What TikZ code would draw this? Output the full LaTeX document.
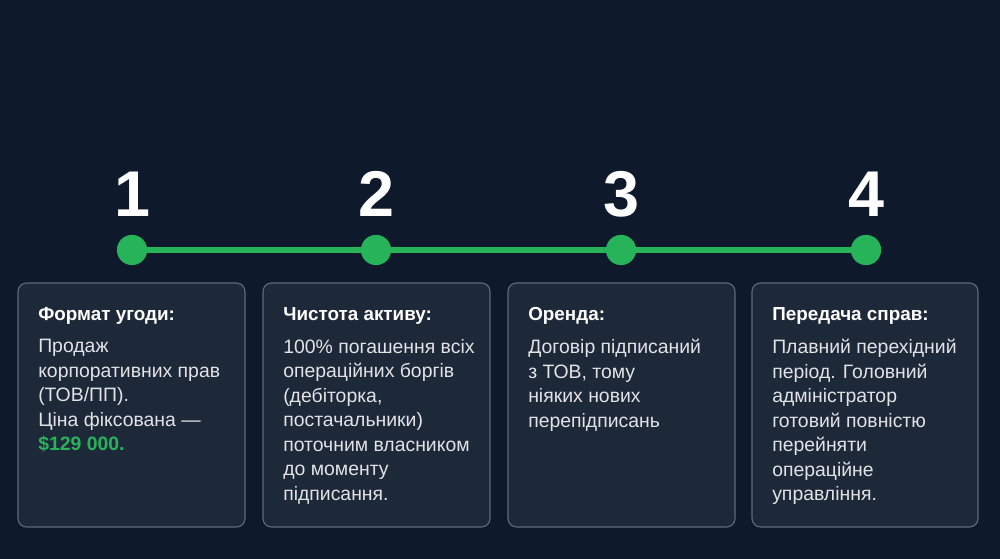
\documentclass[tikz,border=0pt]{standalone}
\usepackage{fontspec}
\setmainfont{Liberation Sans}
\begin{document}
\begin{tikzpicture}[x=0.025cm,y=-0.025cm,
  card/.style={draw=white!35!bg,fill=cardc,rounded corners=6pt,line width=0.8pt},
  dot/.style={circle,fill=grn,minimum size=21.5pt,inner sep=0pt},
  num/.style={text=white,font=\fontsize{46}{46}\selectfont\bfseries},
  ttl/.style={anchor=north west,inner sep=0pt,text=white,font=\fontsize{13.4}{15}\selectfont\bfseries},
  body/.style={anchor=north west,inner sep=0pt,text=white!88!bg,align=left,font=\fontsize{13.8}{17.4}\selectfont}]
\definecolor{bg}{HTML}{0E192C}
\definecolor{cardc}{HTML}{1D2839}
\definecolor{grn}{HTML}{27B35A}
\fill[bg] (0,0) rectangle (1000,559);
\useasboundingbox (0,0) rectangle (1000,559);
\node[dot] (d1) at (132,250) {};
\node[dot] (d2) at (376,250) {};
\node[dot] (d3) at (621,250) {};
\node[dot] (d4) at (866,250) {};
\draw[grn,line width=4.5pt] (d1)--(d2)--(d3)--(d4);
\node[num] (n1) at (132,194) {1};
\node[num] (n2) at (376,194) {2};
\node[num] (n3) at (621,194) {3};
\node[num] (n4) at (866,194) {4};
\draw[card] (18,283) rectangle (245,527);
\draw[card] (263,283) rectangle (490,527);
\draw[card] (508,283) rectangle (735,527);
\draw[card] (752,283) rectangle (978,527);
\node[ttl] (t1) at (38,307) {Формат угоди:};
\node[ttl] (t2) at (283,307) {Чистота активу:};
\node[ttl] (t3) at (528,307) {Оренда:};
\node[ttl] (t4) at (772,307) {Передача справ:};
\node[body] (b1) at (38,339) {Продаж\\корпоративних прав\\(ТОВ/ПП).\\Ціна фіксована —\\\textcolor{grn}{\bfseries \$129 000.}};
\node[body] (b2) at (283,339) {100\% погашення всіх\\операційних боргів\\(дебіторка,\\постачальники)\\поточним власником\\до моменту\\підписання.};
\node[body] (b3) at (528,339) {Договір підписаний\\з ТОВ, тому\\ніяких нових\\перепідписань};
\node[body] (b4) at (772,339) {Плавний перехідний\\період. Головний\\адміністратор\\готовий повністю\\перейняти\\операційне\\управління.};
\end{tikzpicture}
\end{document}
